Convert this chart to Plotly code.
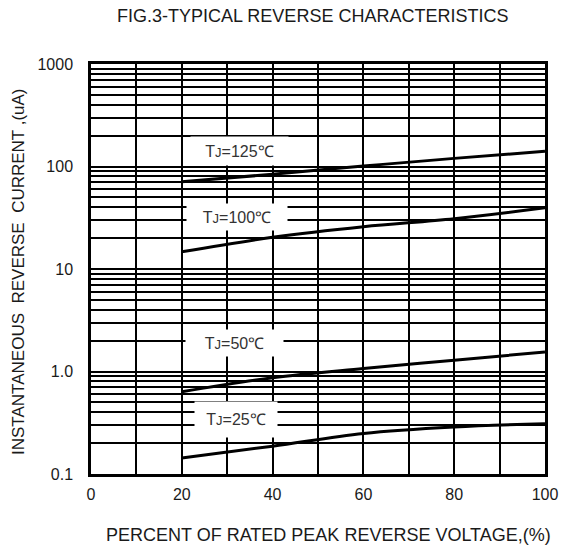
import plotly.graph_objects as go

# ---- data ----
voltage_pct = [20, 40, 60, 80, 100]
tj125 = [71, 84, 101, 120, 141]
tj100 = [14.7, 20.4, 25.9, 31, 39.6]
tj50 = [0.635, 0.87, 1.07, 1.29, 1.55]
tj25 = [0.143, 0.187, 0.249, 0.288, 0.31]

series_temps = ["125", "100", "50", "25"]
x_ticks = [0, 20, 40, 60, 80, 100]
y_ticks = [0.1, 1, 10, 100, 1000]
y_tick_text = ["0.1", "1.0", "10", "100", "1000"]

FONT = "Liberation Sans, Arial, sans-serif"
TXT = "#1a1a1a"

fig = go.Figure()
for ys in [tj125, tj100, tj50, tj25]:
    fig.add_trace(go.Scatter(x=voltage_pct, y=ys, mode="lines",
                             line=dict(color="black", width=3, shape="spline"),
                             showlegend=False, hoverinfo="skip"))

# label boxes (pixel-derived placement converted to axis coords)
L, R, T, B = 91, 545, 64, 474
def px2x(px):
    return (px - L) / (R - L) * 100
def py2logy(py):
    return 3 - (py - T) / ((B - T) / 4)

boxes = [  # cx, cy, w, h
    (239.5, 151, 97, 28),
    (237, 217, 100, 26),
    (234.5, 343, 97, 26),
    (236, 419.5, 82, 35),
]
for temp, (cx, cy, w, h) in zip(series_temps, boxes):
    lab = "T<span style='font-size:13px'>J</span>=" + temp + "℃"
    fig.add_annotation(x=px2x(cx), y=py2logy(cy), xref="x", yref="y",
                       text=lab, showarrow=False, bgcolor="white",
                       xanchor="center", yanchor="middle",
                       width=w - 2, height=h - 2, borderpad=1,
                       font=dict(family=FONT, size=16, color="#333"))

def paper(px, py):
    return (px - L) / (R - L), (B - py) / (B - T)

# titles
tx, ty = paper(312, 16)
fig.add_annotation(x=tx, y=ty, xref="paper", yref="paper", xanchor="center", yanchor="middle",
                   text="FIG.3-TYPICAL REVERSE CHARACTERISTICS", showarrow=False,
                   font=dict(family=FONT, size=18, color=TXT))
tx, ty = paper(328, 535)
fig.add_annotation(x=tx, y=ty, xref="paper", yref="paper", xanchor="center", yanchor="middle",
                   text="PERCENT OF RATED PEAK REVERSE VOLTAGE,(%)", showarrow=False,
                   font=dict(family=FONT, size=18, color=TXT))
tx, ty = paper(18, 272)
fig.add_annotation(x=tx, y=ty, xref="paper", yref="paper", xanchor="center", yanchor="middle",
                   text="INSTANTANEOUS&nbsp; REVERSE&nbsp; CURRENT ,(uA)", showarrow=False,
                   textangle=-90,
                   font=dict(family=FONT, size=17, color=TXT))

minor_y = [m * 10.0 ** d for d in range(-1, 3) for m in range(2, 10)]

fig.update_xaxes(range=[0, 100], tickmode="array", tickvals=x_ticks, automargin=False,
                 showgrid=True, gridcolor="black", gridwidth=2,
                 minor=dict(dtick=10, showgrid=True, gridcolor="black", gridwidth=2),
                 showline=True, linecolor="black", linewidth=2.5, mirror=True,
                 zeroline=False, ticks="", ticklabelstandoff=4,
                 tickfont=dict(family=FONT, size=16, color=TXT))
fig.update_yaxes(type="log", range=[-1, 3], tickmode="array", tickvals=y_ticks,
                 ticktext=y_tick_text, automargin=False,
                 showgrid=True, gridcolor="black", gridwidth=2,
                 minor=dict(tickmode="array", tickvals=minor_y, showgrid=True,
                            gridcolor="black", gridwidth=2),
                 showline=True, linecolor="black", linewidth=2.5, mirror=True,
                 zeroline=False, ticks="", ticklabelstandoff=12,
                 tickfont=dict(family=FONT, size=16, color=TXT))

fig.update_layout(width=563, height=549,
                  margin=dict(l=L, r=563 - R, t=T, b=549 - B),
                  plot_bgcolor="white", paper_bgcolor="white")

fig.write_html("out.html", config={"displayModeBar": False},
               post_script="document.body.style.margin='0';document.body.style.overflow='hidden';")
